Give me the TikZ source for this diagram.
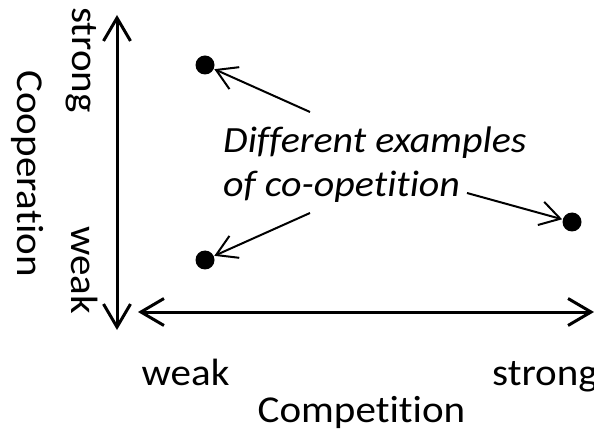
\documentclass[tikz,border=0pt]{standalone}
\usepackage{fontspec}
\setmainfont{Carlito}[FakeStretch=1.08,Ligatures={NoCommon}]
\usetikzlibrary{arrows.meta}
\begin{document}
\begin{tikzpicture}[x=1pt,y=-1pt,
  axisline/.style={line width=3pt,{Straight Barb[length=23pt,width=27pt]}-{Straight Barb[length=23pt,width=27pt]}},
  callout/.style={line width=2pt,-{Straight Barb[length=20pt,width=24pt]},shorten >=0.5pt},
  dot/.style={circle,fill=black,inner sep=0pt,minimum size=19pt},
  lbl/.style={inner sep=0pt,font=\fontsize{38}{40}\selectfont},
  ilbl/.style={inner sep=0pt,font=\fontsize{37}{40}\selectfont\itshape}]
\useasboundingbox (0,0) rectangle (594,430);
% axes
\coordinate (vtop) at (117,15);
\coordinate (vbot) at (117,330);
\coordinate (hleft) at (138,312);
\coordinate (hright) at (594,312);
\draw[axisline] (vtop) -- (vbot);
\draw[axisline] (hleft) -- (hright);
% dots
\node[dot] (d1) at (205,65) {};
\node[dot] (d2) at (205,260) {};
\node[dot] (d3) at (572,222) {};
% labels
\node[ilbl,anchor=base west] (lab1) at (223,153) {Different examples};
\node[ilbl,anchor=base west] (lab2) at (223,196.5) {of co-opetition};
\coordinate (s1) at (310,112);
\coordinate (s2) at (310,213);
\coordinate (s3) at (467,193);
\draw[callout] (s1) -- (d1);
\draw[callout] (s2) -- (d2);
\draw[callout] (s3) -- (d3);
% axis texts
\node[lbl,rotate=-90] (vstrong) at (81,60) {strong};
\node[lbl,rotate=-90] (vweak) at (85,270) {weak};
\node[lbl,rotate=-90] (coop) at (28,173.5) {Cooperation};
\node[lbl,anchor=base] (hweak) at (185.5,385) {weak};
\node[lbl,anchor=base west] (hstrong) at (492,385) {strong};
\node[lbl,anchor=base] (comp) at (361.5,422) {Competition};
\end{tikzpicture}
\end{document}
